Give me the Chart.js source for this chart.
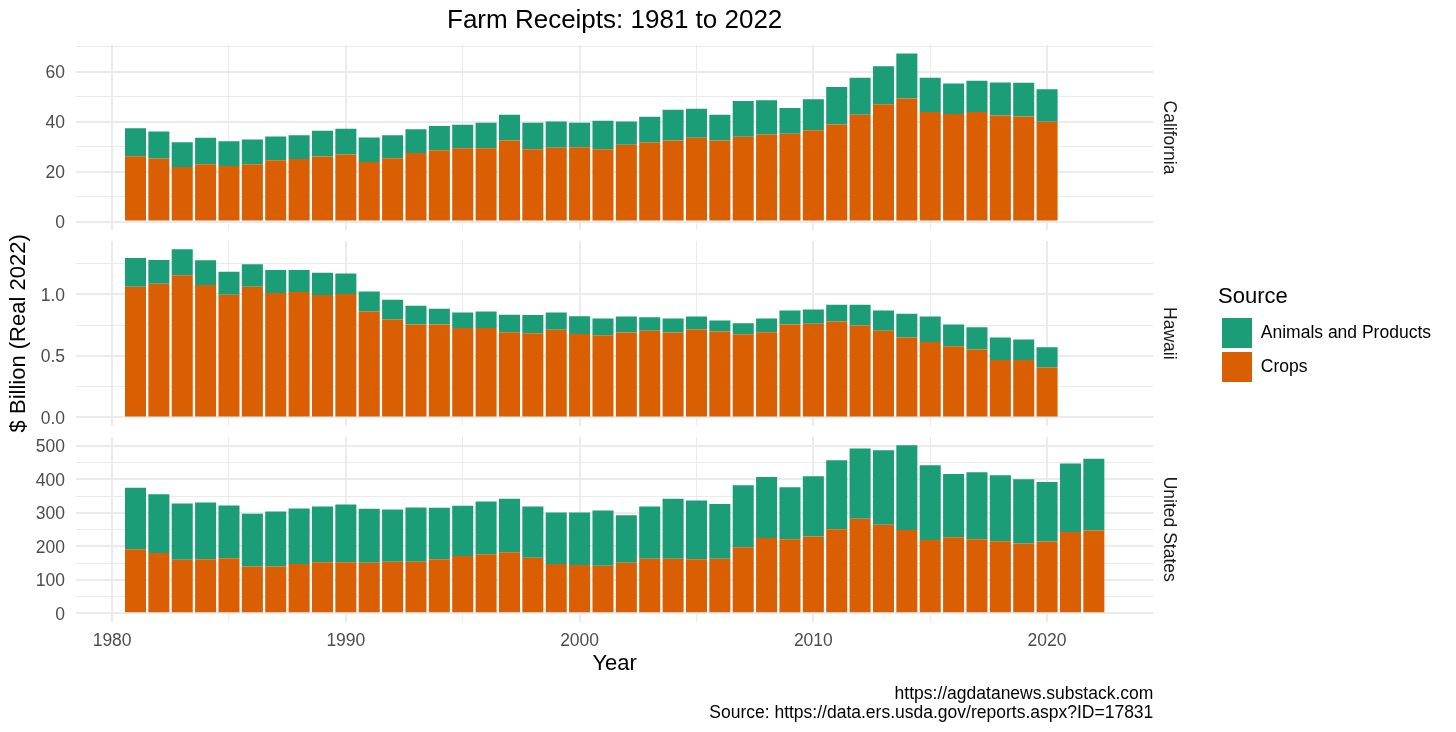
<!DOCTYPE html>
<html>
<head>
<meta charset="utf-8">
<script src="https://cdn.jsdelivr.net/npm/chart.js@4.4.1/dist/chart.umd.min.js"></script>
<style>
html,body{margin:0;padding:0;background:#ffffff;}
#wrap{width:1456px;height:732px;}
</style>
</head>
<body>
<div id="wrap"><canvas id="c" width="1456" height="732"></canvas></div>
<script>
// ---------------- data ----------------
const stateYears = [1981,1982,1983,1984,1985,1986,1987,1988,1989,1990,1991,1992,1993,1994,1995,1996,1997,1998,1999,2000,2001,2002,2003,2004,2005,2006,2007,2008,2009,2010,2011,2012,2013,2014,2015,2016,2017,2018,2019,2020];
const usYears = [1981,1982,1983,1984,1985,1986,1987,1988,1989,1990,1991,1992,1993,1994,1995,1996,1997,1998,1999,2000,2001,2002,2003,2004,2005,2006,2007,2008,2009,2010,2011,2012,2013,2014,2015,2016,2017,2018,2019,2020,2021,2022];

const caCrops   = [26.1,25.2,21.8,22.9,22.2,22.9,24.5,25.0,26.0,26.8, 23.8,25.3,27.4,28.5,29.3,29.3,32.4,28.9,29.5,29.7, 28.9,30.7,31.6,32.4,33.5,32.4,33.9,34.8,35.1,36.5, 38.8,42.7,46.9,49.3,43.8,43.0,43.8,42.4,42.0,39.9];
const caAnimals = [11.2,10.8,9.9,10.6,9.9,9.9,9.5,9.5,10.3,10.3, 9.8,9.2,9.5,9.7,9.4,10.2,10.3,10.6,10.5,9.8, 11.4,9.3,10.3,12.3,11.6,10.3,14.4,13.8,10.3,12.5, 15.1,14.9,15.3,18.0,13.8,12.3,12.6,13.3,13.6,13.1];

const hiCrops   = [1.062,1.087,1.155,1.076,0.997,1.062,1.011,1.019,0.995,1.003, 0.861,0.796,0.755,0.755,0.726,0.726,0.693,0.685,0.712,0.679, 0.668,0.690,0.704,0.690,0.715,0.698,0.677,0.693,0.755,0.761, 0.780,0.747,0.704,0.649,0.614,0.579,0.552,0.467,0.467,0.405];
const hiAnimals = [0.234,0.193,0.212,0.201,0.188,0.183,0.187,0.179,0.182,0.168, 0.163,0.161,0.153,0.128,0.127,0.135,0.141,0.147,0.141,0.144, 0.136,0.131,0.111,0.114,0.106,0.090,0.089,0.111,0.115,0.117, 0.136,0.169,0.166,0.193,0.207,0.176,0.182,0.182,0.166,0.166];

const usCrops   = [191,180,160,161,164,140,140,147,152,152, 151,154,154,161,171,176,182,166,147,144, 142,151,163,163,161,163,197,225,221,229, 251,282,264,249,219,227,221,215,208,214, 243,247];
const usAnimals = [184,175,168,170,158,157,164,166,167,173, 161,156,162,154,150,158,160,153,154,157, 165,142,156,179,176,163,185,182,155,180, 206,210,223,253,223,189,200,197,192,178, 204,214];

const seriesNames = ['Crops', 'Animals and Products'];
const panelNames = ['California', 'Hawaii', 'United States'];
const chartTitle = 'Farm Receipts: 1981 to 2022';
const yTitle = '$ Billion (Real 2022)';
const xTitle = 'Year';
const legendTitle = 'Source';
const captionLines = ['https://agdatanews.substack.com', 'Source: https://data.ers.usda.gov/reports.aspx?ID=17831'];

// ---------------- styling ----------------
const FONT = "'Liberation Sans', Arial, Helvetica, sans-serif";
const GREEN = '#1B9E77';
const ORANGE = '#D95F02';
const GRID = '#EBEBEB';
const TICK_COLOR = '#4D4D4D';

Chart.defaults.font.family = FONT;
Chart.defaults.font.size = 17.5;
Chart.defaults.color = '#000';

const pts = (xs, ys) => xs.map((x, i) => ({x: x, y: ys[i]}));
const totalsMax = (a, b) => Math.max(...a.map((v, i) => v + b[i]));
// ggplot-like 5% expansion of the continuous y range
const yRange = (a, b) => { const m = totalsMax(a, b); return {min: -0.05 * m, max: 1.05 * m}; };
// x range: bars of width 0.9 + 5% expansion
const allYears = usYears.concat(stateYears);
const xLo = Math.min(...allYears) - 0.45, xHi = Math.max(...allYears) + 0.45;
const xPad = 0.05 * (xHi - xLo);

const near = (v, step) => Math.abs(v / step - Math.round(v / step)) < 1e-6;
// regular breaks every `step` inside the axis range (major + minor grid like ggplot)
const breaks = step => s => {
  const t = [];
  const start = Math.ceil(s.min / step - 1e-9);
  for (let k = start; k * step <= s.max + 1e-9; k++) t.push({value: Math.round(k * step * 1e6) / 1e6});
  s.ticks = t;
};

function panelAxis(range, step, major, fmt, weight, title) {
  return {
    type: 'linear', position: 'left', stack: 'panels', stackWeight: 1, weight: weight,
    stacked: true, min: range.min, max: range.max,
    border: {display: false},
    grid: {
      drawTicks: false,
      color: GRID,
      lineWidth: c => (c.tick && near(c.tick.value, major)) ? 2 : 1
    },
    ticks: {
      autoSkip: false, padding: 11, labelOffset: 1.5,
      color: TICK_COLOR, font: {size: 17.5},
      callback: v => near(v, major) ? fmt(v) : ''
    },
    afterBuildTicks: breaks(step),
    title: title ? {display: true, text: title, color: '#000', font: {size: 22}, padding: {top: 5.8, bottom: 0}} : {display: false},
    afterFit: s => { s.width = 76; }
  };
}
function gapAxis(pos, stack, weight) {
  return {type: 'linear', position: pos, stack: stack, stackWeight: 0.059, weight: weight, display: false};
}
function stripAxis(text, weight) {
  return {
    type: 'linear', position: 'right', stack: 'strips', stackWeight: 1, weight: weight, display: true,
    grid: {display: false, drawTicks: false}, border: {display: false}, ticks: {display: false},
    title: {display: true, text: text, color: '#1A1A1A', font: {size: 17.5}, padding: {top: 38.7, bottom: 5}}
  };
}

const gapPlugin = {
  id: 'panelGaps',
  beforeDatasetsDraw(chart) {
    const {ctx, chartArea} = chart;
    ctx.save();
    ctx.fillStyle = '#ffffff';
    ['gapL1', 'gapL2'].forEach(id => {
      const s = chart.scales[id];
      ctx.fillRect(chartArea.left - 2, s.top, chartArea.right - chartArea.left + 4, s.bottom - s.top);
    });
    ctx.restore();
  }
};

const ds = (label, xs, ys, color, axis) => ({
  label: label, data: pts(xs, ys), backgroundColor: color, borderWidth: 0,
  xAxisID: 'x', yAxisID: axis, stack: 'all',
  categoryPercentage: 1.0, barPercentage: 0.9
});

new Chart(document.getElementById('c'), {
  type: 'bar',
  data: {
    datasets: [
      ds(seriesNames[0], stateYears, caCrops, ORANGE, 'yCA'),
      ds(seriesNames[1], stateYears, caAnimals, GREEN, 'yCA'),
      ds(seriesNames[0], stateYears, hiCrops, ORANGE, 'yHI'),
      ds(seriesNames[1], stateYears, hiAnimals, GREEN, 'yHI'),
      ds(seriesNames[0], usYears, usCrops, ORANGE, 'yUS'),
      ds(seriesNames[1], usYears, usAnimals, GREEN, 'yUS')
    ]
  },
  options: {
    responsive: false,
    animation: false,
    devicePixelRatio: 1,
    layout: {padding: {left: 0, right: 15, top: 0, bottom: 0}},
    plugins: {
      tooltip: {enabled: false},
      title: {
        display: true, text: chartTitle, color: '#000', fullSize: false, align: 'center',
        font: {size: 26, weight: 'normal'}, padding: {top: 5.4, bottom: 8.4}
      },
      subtitle: {
        display: true, text: captionLines, position: 'bottom', align: 'end', fullSize: false, color: '#000',
        font: {size: 17.5, weight: 'normal', lineHeight: 1.109}, padding: {top: 7.4, bottom: 9.2}
      },
      legend: {
        position: 'right', align: 'center', fullSize: false, maxWidth: 300,
        title: {display: true, text: legendTitle, color: '#000', font: {size: 22}, padding: {top: 5.4, bottom: 1.3}, position: 'start'},
        labels: {
          boxWidth: 30, boxHeight: 30, padding: 4, color: '#000', font: {size: 17.5},
          filter: item => item.datasetIndex < 2,
          sort: (a, b) => b.datasetIndex - a.datasetIndex
        }
      }
    },
    scales: {
      x: {
        type: 'linear', position: 'bottom', stacked: true, offset: false,
        min: xLo - xPad, max: xHi + xPad,
        border: {display: false},
        grid: {
          offset: false, drawTicks: false, color: GRID,
          lineWidth: c => (c.tick && near(c.tick.value, 10)) ? 2 : 1
        },
        ticks: {
          autoSkip: false, maxRotation: 0, padding: 8.5,
          color: TICK_COLOR, font: {size: 17.5},
          callback: v => near(v, 10) ? String(Math.round(v)) : ''
        },
        afterBuildTicks: breaks(5),
        afterFit: s => { s.height = 54.9; },
        title: {display: true, text: xTitle, color: '#000', font: {size: 22}, padding: {top: 0, bottom: -0.4}}
      },
      yUS: panelAxis(yRange(usCrops, usAnimals), 50, 100, v => String(Math.round(v)), 1, null),
      gapL2: gapAxis('left', 'panels', 2),
      yHI: panelAxis(yRange(hiCrops, hiAnimals), 0.25, 0.5, v => v.toFixed(1), 3, yTitle),
      gapL1: gapAxis('left', 'panels', 4),
      yCA: panelAxis(yRange(caCrops, caAnimals), 10, 20, v => String(Math.round(v)), 5, null),
      sCA: stripAxis(panelNames[0], 1),
      gapR1: gapAxis('right', 'strips', 2),
      sHI: stripAxis(panelNames[1], 3),
      gapR2: gapAxis('right', 'strips', 4),
      sUS: stripAxis(panelNames[2], 5)
    }
  },
  plugins: [gapPlugin]
});
</script>
</body>
</html>
